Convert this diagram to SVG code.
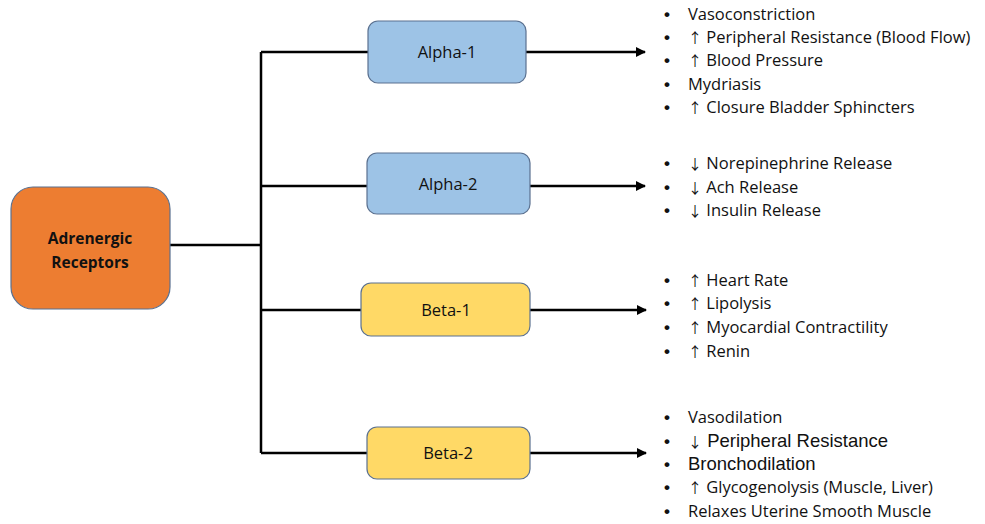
<svg xmlns="http://www.w3.org/2000/svg" width="985" height="524" viewBox="0 0 985 524">
<defs>
<style>
.box{stroke:#5b7190;stroke-width:1.2}
.orange{fill:#ED7D31}
.blue{fill:#9DC3E6}
.yellow{fill:#FFD966}
.lbl{font-family:"Open Sans","Liberation Sans",sans-serif;font-size:16.5px;fill:#111;text-anchor:middle}
.bold{font-weight:bold;font-size:15.5px}
.conn{stroke:#000;stroke-width:2.5;fill:none}
.li{font-family:"Open Sans","Liberation Sans",sans-serif;font-size:16.5px;fill:#111}
.ar{font-family:"Liberation Sans",Arial,sans-serif;font-size:18.5px}
.sym{font-family:"Noto Sans CJK SC","Noto Sans CJK JP",sans-serif;font-size:14px}
.bul{font-family:"Liberation Sans",sans-serif;font-size:17px;font-weight:bold}
</style>
<marker id="arr" viewBox="0 0 10 10" refX="9" refY="5" markerWidth="4" markerHeight="4" orient="auto" markerUnits="strokeWidth">
<path d="M0,0 L10,5 L0,10 z" fill="#000"/>
</marker>
</defs>
<rect width="985" height="524" fill="#fff"/>
<g id="connectors">
<path class="conn" d="M170,245 H261"/>
<path class="conn" d="M261,52 V453"/>
<path class="conn" d="M261,52 H368"/>
<path class="conn" d="M261,186 H367"/>
<path class="conn" d="M261,310 H361"/>
<path class="conn" d="M261,453 H367"/>
<path class="conn" d="M526,52 H645" marker-end="url(#arr)"/>
<path class="conn" d="M530,186 H645" marker-end="url(#arr)"/>
<path class="conn" d="M530,310 H646" marker-end="url(#arr)"/>
<path class="conn" d="M530,453 H646" marker-end="url(#arr)"/>
</g>
<g id="adrenergic">
<rect class="box orange" x="11" y="187" width="159" height="122" rx="22"/>
<text class="lbl bold" x="90" y="244">Adrenergic</text>
<text class="lbl bold" x="90" y="268">Receptors</text>
</g>
<g id="alpha1">
<rect class="box blue" x="368" y="21" width="158" height="62" rx="10"/>
<text class="lbl" x="447" y="58">Alpha-1</text>
</g>
<g id="alpha2">
<rect class="box blue" x="367" y="153" width="163" height="61" rx="10"/>
<text class="lbl" x="448" y="190">Alpha-2</text>
</g>
<g id="beta1">
<rect class="box yellow" x="361" y="283" width="169" height="53" rx="10"/>
<text class="lbl" x="446" y="316">Beta-1</text>
</g>
<g id="beta2">
<rect class="box yellow" x="367" y="427" width="163" height="52" rx="10"/>
<text class="lbl" x="448" y="459">Beta-2</text>
</g>
<g id="alpha1-effects" class="li">
<text class="bul" x="664" y="20">•</text><text x="688" y="20">Vasoconstriction</text>
<text class="bul" x="664" y="43">•</text><text x="688" y="43"><tspan class="sym">↑</tspan> Peripheral Resistance (Blood Flow)</text>
<text class="bul" x="664" y="66">•</text><text x="688" y="66"><tspan class="sym">↑</tspan> Blood Pressure</text>
<text class="bul" x="664" y="90">•</text><text x="688" y="90">Mydriasis</text>
<text class="bul" x="664" y="113">•</text><text x="688" y="113"><tspan class="sym">↑</tspan> Closure Bladder Sphincters</text>
</g>
<g id="alpha2-effects" class="li">
<text class="bul" x="664" y="169">•</text><text x="688" y="169"><tspan class="sym">↓</tspan> Norepinephrine Release</text>
<text class="bul" x="664" y="193">•</text><text x="688" y="193"><tspan class="sym">↓</tspan> Ach Release</text>
<text class="bul" x="664" y="216">•</text><text x="688" y="216"><tspan class="sym">↓</tspan> Insulin Release</text>
</g>
<g id="beta1-effects" class="li">
<text class="bul" x="664" y="286">•</text><text x="688" y="286"><tspan class="sym">↑</tspan> Heart Rate</text>
<text class="bul" x="664" y="309">•</text><text x="688" y="309"><tspan class="sym">↑</tspan> Lipolysis</text>
<text class="bul" x="664" y="333">•</text><text x="688" y="333"><tspan class="sym">↑</tspan> Myocardial Contractility</text>
<text class="bul" x="664" y="357">•</text><text x="688" y="357"><tspan class="sym">↑</tspan> Renin</text>
</g>
<g id="beta2-effects" class="li">
<text class="bul" x="664" y="423">•</text><text x="688" y="423">Vasodilation</text>
<text class="bul" x="664" y="447">•</text><text x="688" y="447"><tspan class="sym">↓</tspan><tspan class="ar"> Peripheral Resistance</tspan></text>
<text class="bul" x="664" y="470">•</text><text class="ar" x="688" y="470">Bronchodilation</text>
<text class="bul" x="664" y="493">•</text><text x="688" y="493"><tspan class="sym">↑</tspan> Glycogenolysis (Muscle, Liver)</text>
<text class="bul" x="664" y="517">•</text><text x="688" y="517">Relaxes Uterine Smooth Muscle</text>
</g>
</svg>
